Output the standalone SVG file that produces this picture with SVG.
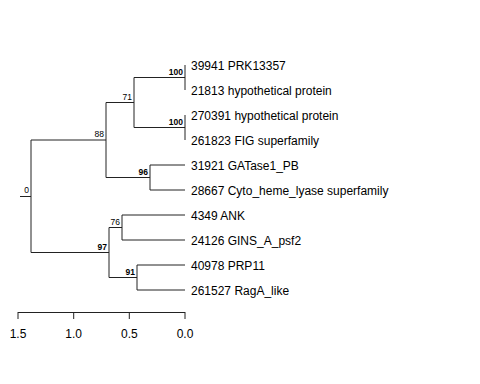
<svg xmlns="http://www.w3.org/2000/svg" width="480" height="384" viewBox="0 0 480 384">
<style>
.e{stroke:#222;stroke-width:1;fill:none}
.t{font-family:"Liberation Sans",Arial,sans-serif;font-size:12px;fill:#000}
.n{font-family:"Liberation Sans",Arial,sans-serif;font-size:8.5px;fill:#000;text-anchor:end}
.b{font-weight:bold}
.a{font-family:"Liberation Sans",Arial,sans-serif;font-size:12px;fill:#000;text-anchor:middle}
</style>
<rect width="480" height="384" fill="#fff"/>
<g id="connectors">
<path class="e" d="M20,196.5H31M31,140V252.5M31,140H106M31,252.5H109"/>
<path class="e" d="M106,102.5V177.5M106,102.5H134M106,177.5H150"/>
<path class="e" d="M134,77.5V127.5M134,77.5H185M134,127.5H185"/>
<path class="e" d="M185,65V90M185,115V140"/>
<path class="e" d="M150,165V190M150,165H185M150,190H185"/>
<path class="e" d="M109,227.5V277.5M109,227.5H122M109,277.5H137"/>
<path class="e" d="M122,215V240M122,215H185M122,240H185"/>
<path class="e" d="M137,265V290M137,265H185M137,290H185"/>
</g>
<g id="node-labels">
<text class="n" x="29" y="193">0</text>
<text class="n" x="104" y="137">88</text>
<text class="n" x="132" y="99.5">71</text>
<text class="n b" x="183" y="74.5">100</text>
<text class="n b" x="183" y="124.5">100</text>
<text class="n b" x="148" y="174.5">96</text>
<text class="n b" x="107" y="249.5">97</text>
<text class="n" x="120" y="224.5">76</text>
<text class="n b" x="135" y="274.5">91</text>
</g>
<g id="tip-39941"><text class="t" x="191" y="69.5">39941 PRK13357</text></g>
<g id="tip-21813"><text class="t" x="191" y="94.5">21813 hypothetical protein</text></g>
<g id="tip-270391"><text class="t" x="191" y="119.5">270391 hypothetical protein</text></g>
<g id="tip-261823"><text class="t" x="191" y="144.5">261823 FIG superfamily</text></g>
<g id="tip-31921"><text class="t" x="191" y="169.5">31921 GATase1_PB</text></g>
<g id="tip-28667"><text class="t" x="191" y="194.5">28667 Cyto_heme_lyase superfamily</text></g>
<g id="tip-4349"><text class="t" x="191" y="219.5">4349 ANK</text></g>
<g id="tip-24126"><text class="t" x="191" y="244.5">24126 GINS_A_psf2</text></g>
<g id="tip-40978"><text class="t" x="191" y="269.5">40978 PRP11</text></g>
<g id="tip-261527"><text class="t" x="191" y="294.5">261527 RagA_like</text></g>
<g id="axis">
<path class="e" d="M18,312.5H185M18,312V319M73.7,312V319M129.3,312V319M185,312V319"/>
<text class="a" x="18" y="338">1.5</text>
<text class="a" x="73.7" y="338">1.0</text>
<text class="a" x="129.3" y="338">0.5</text>
<text class="a" x="185" y="338">0.0</text>
</g>
</svg>
